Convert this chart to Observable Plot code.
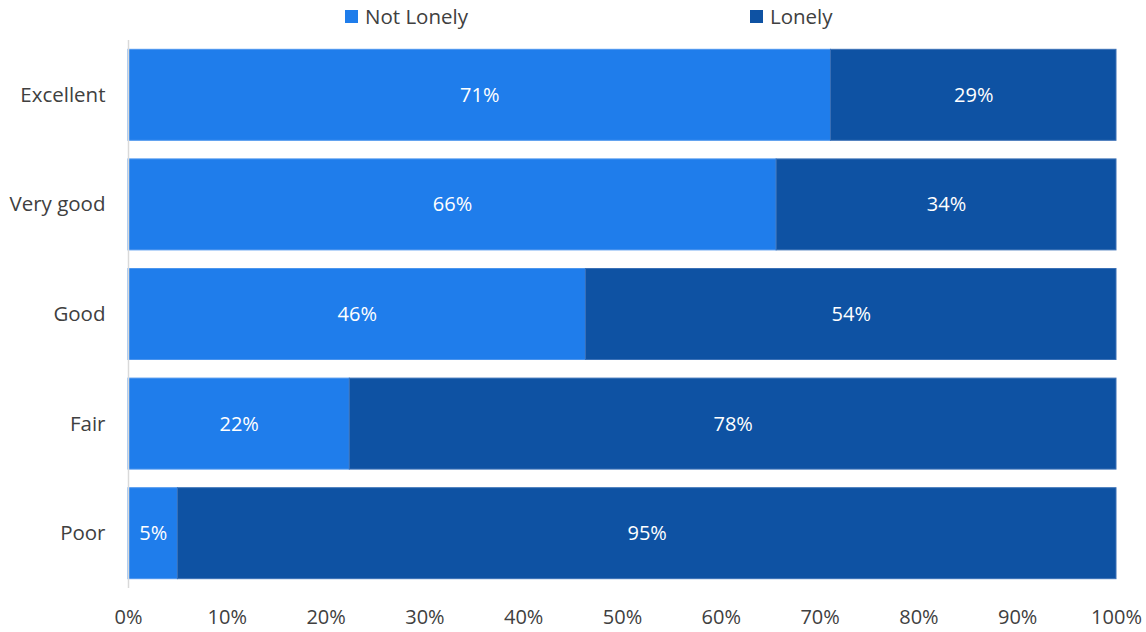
<!DOCTYPE html>
<html>
<head>
<meta charset="utf-8">
<script src="https://cdn.jsdelivr.net/npm/d3@7"></script>
<script src="https://cdn.jsdelivr.net/npm/@observablehq/plot@0.6"></script>
<style>
  html, body { margin: 0; padding: 0; background: #fff; }
  body { width: 1146px; height: 632px; overflow: hidden; font-family: "Open Sans", sans-serif; }
  #legend { position: relative; height: 36px; width: 1146px; color: #404040; font-size: 20.5px; }
  .item { position: absolute; top: 2px; display: flex; align-items: center; }
  .sw { width: 13px; height: 13px; margin-right: 7px; }
</style>
</head>
<body>
<div id="legend"></div>
<div id="chart"></div>
<script>
const categories = ["Excellent", "Very good", "Good", "Fair", "Poor"];
const series = ["Not Lonely", "Lonely"];
const notLonely = [71.1, 65.6, 46.3, 22.4, 5.0];
const lonely = [28.9, 34.4, 53.7, 77.6, 95.0];
const colors = ["#1f7deb", "#0e52a3"];
const xTicks = [0, 10, 20, 30, 40, 50, 60, 70, 80, 90, 100];

const data = [];
categories.forEach((c, i) => {
  data.push({health: c, status: series[0], value: notLonely[i]});
  data.push({health: c, status: series[1], value: lonely[i]});
});

// legend
const legend = document.getElementById("legend");
const legendX = [345, 750];
series.forEach((s, i) => {
  const d = document.createElement("div");
  d.className = "item";
  d.style.left = legendX[i] + "px";
  d.innerHTML = `<div class="sw" style="background:${colors[i]}"></div><span>${s}</span>`;
  legend.appendChild(d);
});

const chart = Plot.plot({
  width: 1146,
  height: 596,
  marginLeft: 128,
  marginRight: 30,
  marginTop: 4,
  marginBottom: 44,
  style: {fontFamily: "Open Sans, sans-serif", fontSize: "20.5px", color: "#404040", background: "#fff"},
  x: {domain: [0, 100], ticks: xTicks, tickFormat: d => d + "%", label: null, tickSize: 0, tickPadding: 21},
  y: {domain: categories, label: null, tickSize: 0, tickPadding: 23, paddingInner: 0.17, paddingOuter: 0.085, round: false},
  color: {domain: series, range: colors},
  marks: [
    Plot.barX(data, Plot.stackX({
      x: "value", y: "health", fill: "status",
      stroke: d => d.status === series[0] ? "#4b95ee" : "#3a70b6", strokeWidth: 1
    })),
    Plot.text(data, Plot.stackX({
      x: "value", y: "health",
      text: d => Math.round(d.value) + "%",
      fill: "white", fontSize: 20
    })),
    Plot.ruleX([0], {stroke: "#d9d9d9", strokeWidth: 1.5})
  ]
});
chart.querySelectorAll("[aria-label='x-axis tick label'] text").forEach(t => t.setAttribute("font-size", "20"));
document.getElementById("chart").appendChild(chart);
</script>
</body>
</html>
